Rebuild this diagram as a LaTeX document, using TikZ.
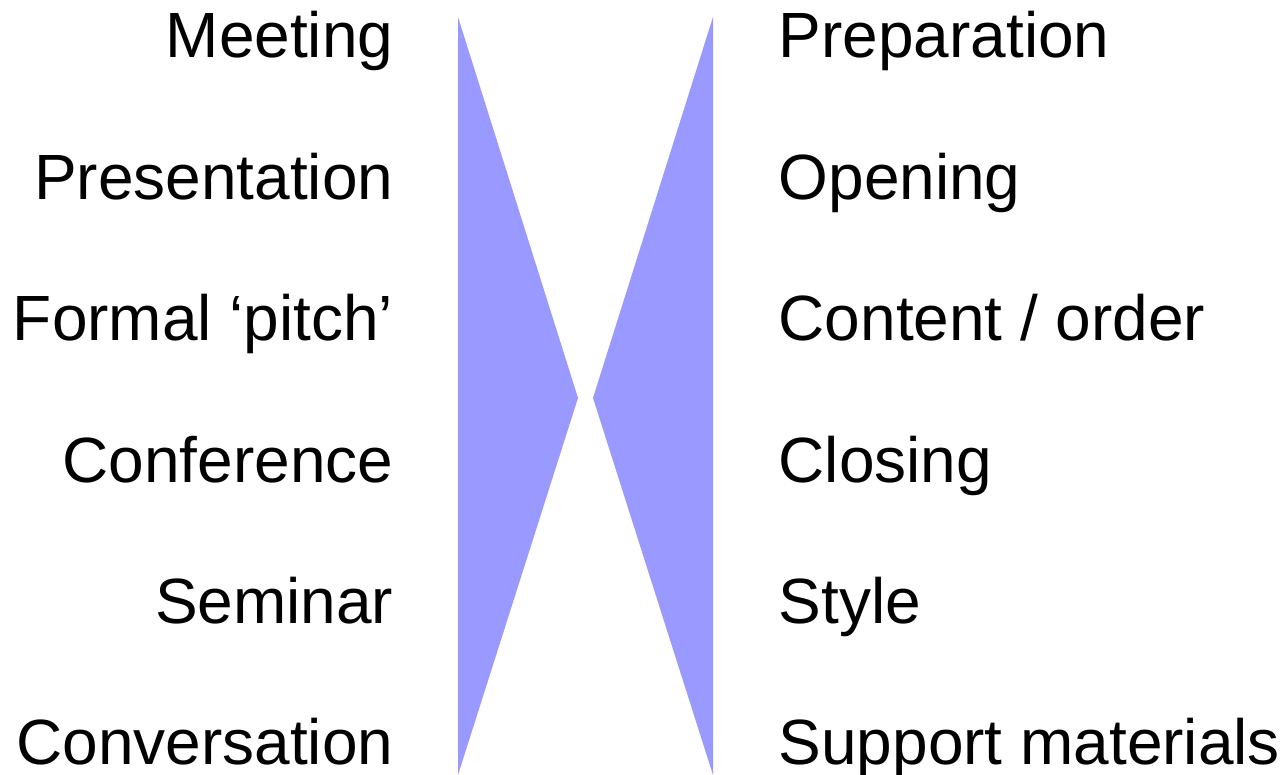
\documentclass[tikz,border=0pt]{standalone}
\usepackage{fontspec}
\setmainfont{Liberation Sans}
\definecolor{reunionLila}{HTML}{9999FF}
\usetikzlibrary{
	positioning,
	calc
}
\tikzset{
	textoTipo/.style={
		anchor=base east,
		inner sep=0pt,
		font=\fontsize{18.2}{20}\selectfont
	},
	textoParte/.style={
		textoTipo,
		anchor=base west
	},
	cunaProc/.style={
		fill=reunionLila,
		draw=none
	}
}

\begin{document}
\begin{tikzpicture}
		\useasboundingbox (0,0) rectangle (12.84,7.75);
		% cunas enfrentadas
		\coordinate (izqArriba) at (4.58,7.58);
		\coordinate (izqAbajo) at (4.58,0);
		\coordinate (izqPunta) at (5.78,3.77);
		\coordinate (derArriba) at (7.13,7.58);
		\coordinate (derAbajo) at (7.13,0);
		\coordinate (derPunta) at (5.93,3.77);
		\fill[cunaProc] (izqArriba) -- (izqPunta) -- (izqAbajo) -- cycle;
		\fill[cunaProc] (derArriba) -- (derPunta) -- (derAbajo) -- cycle;
		% tipos de encuentro
		\foreach \y/\lab [count=\i] in {7.17/Meeting,5.756/Presentation,4.342/Formal ‘pitch’,2.928/Conference,1.514/Seminar,0.10/Conversation}{
			\node[textoTipo] (tipo\i) at (3.94,\y) {\lab};
		}
		% partes de la charla
		\foreach \y/\lab [count=\i] in {7.17/Preparation,5.756/Opening,4.342/{Content / order},2.928/Closing,1.514/Style,0.10/Support materials}{
			\node[textoParte] (parte\i) at (7.78,\y) {\lab};
		}
	\end{tikzpicture}
\end{document}
